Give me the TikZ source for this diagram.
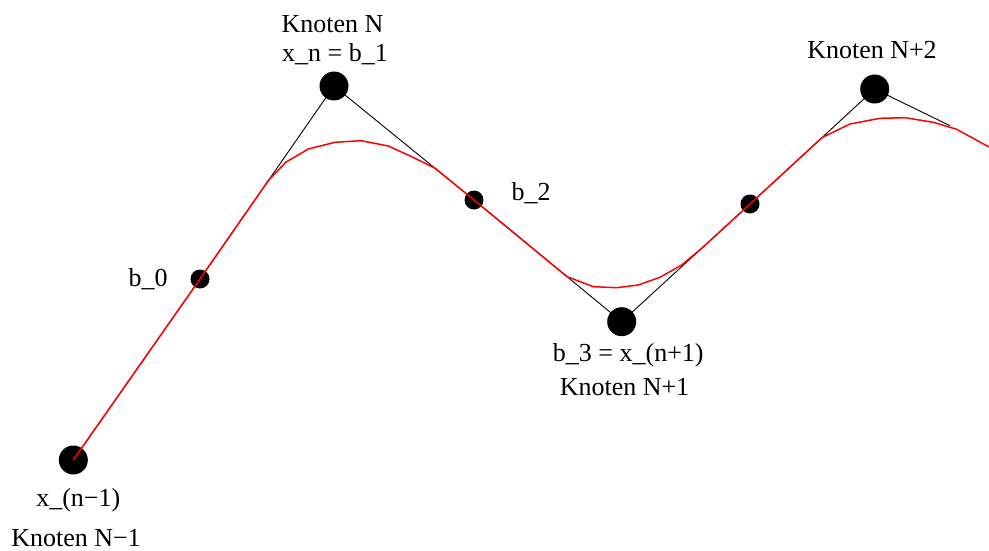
\documentclass[tikz,border=0pt]{standalone}
\usepackage{fontspec}
\setmainfont{Liberation Serif}
\usetikzlibrary{calc}
\begin{document}
\begin{tikzpicture}[x=1pt,y=-1pt,
  knot/.style={circle,fill=black,inner sep=0pt,minimum size=29pt},
  ctrl/.style={circle,fill=black,inner sep=0pt,minimum size=19pt},
  lbl/.style={anchor=base,inner sep=0pt,font=\fontsize{26}{31}\selectfont},
  poly/.style={black,line width=0.9pt},
  spline/.style={red,line width=1.5pt,line join=round}]
\useasboundingbox (0,0) rectangle (989,551);
% points
\node[knot] (xm) at (73.3,460) {};
\node[ctrl] (b0) at (200,279) {};
\node[knot] (xn) at (334,86) {};
\node[ctrl] (b2) at (474,200) {};
\node[knot] (xp) at (621.7,321.7) {};
\node[ctrl] (c2) at (750,204) {};
\node[knot] (xq) at (874.7,89) {};
\coordinate (e) at (950,125.7);
% tangent points of the spline on the control polygon
\coordinate (t1) at ($(b0.center)!0.51!(xn.center)$);
\coordinate (t2) at ($(xn.center)!0.72!(b2.center)$);
\coordinate (t3) at ($(b2.center)!0.63!(xp.center)$);
\coordinate (t4) at ($(xp.center)!0.626!(c2.center)$);
\coordinate (t5) at ($(c2.center)!0.577!(xq.center)$);
% control polygon
\draw[poly] (xm.center) -- (b0.center) -- (xn.center) -- (b2.center) -- (xp.center) -- (c2.center) -- (xq.center) -- (e);
% spline
\draw[spline] (xm.center) -- (b0.center) -- (t1) -- (285.7,162.3) -- (308.3,149) -- (335,142.3) -- (361,140.7) -- (388.3,146) -- (411.7,156.7) -- (t2)
  -- (b2.center) -- (t3) -- (593.3,286.7) -- (616.7,287.7) -- (638.3,285) -- (660,277.3) -- (681.7,265) -- (t4)
  -- (c2.center) -- (t5) -- (850,124) -- (880,118.3) -- (905,117.7) -- (933.3,122.3) -- (956.7,129.3) -- (989,147);
% labels
\node[lbl] (tN) at (332.5,32.7) {Knoten N};
\node[lbl] (tNa) at (335,61.7) {x\_n = b\_1};
\node[lbl] (tb0) at (148,286.7) {b\_0};
\node[lbl] (tb2) at (531,200) {b\_2};
\node[lbl] (tb3) at (628.3,361.7) {b\_3 = x\_(n+1)};
\node[lbl] (tN1) at (624.5,395) {Knoten N+1};
\node[lbl] (tN2) at (872,58.3) {Knoten N+2};
\node[lbl] (txm) at (78.3,506.7) {x\_(n−1)};
\node[lbl] (tNm) at (76,546.7) {Knoten N−1};
\end{tikzpicture}
\end{document}
